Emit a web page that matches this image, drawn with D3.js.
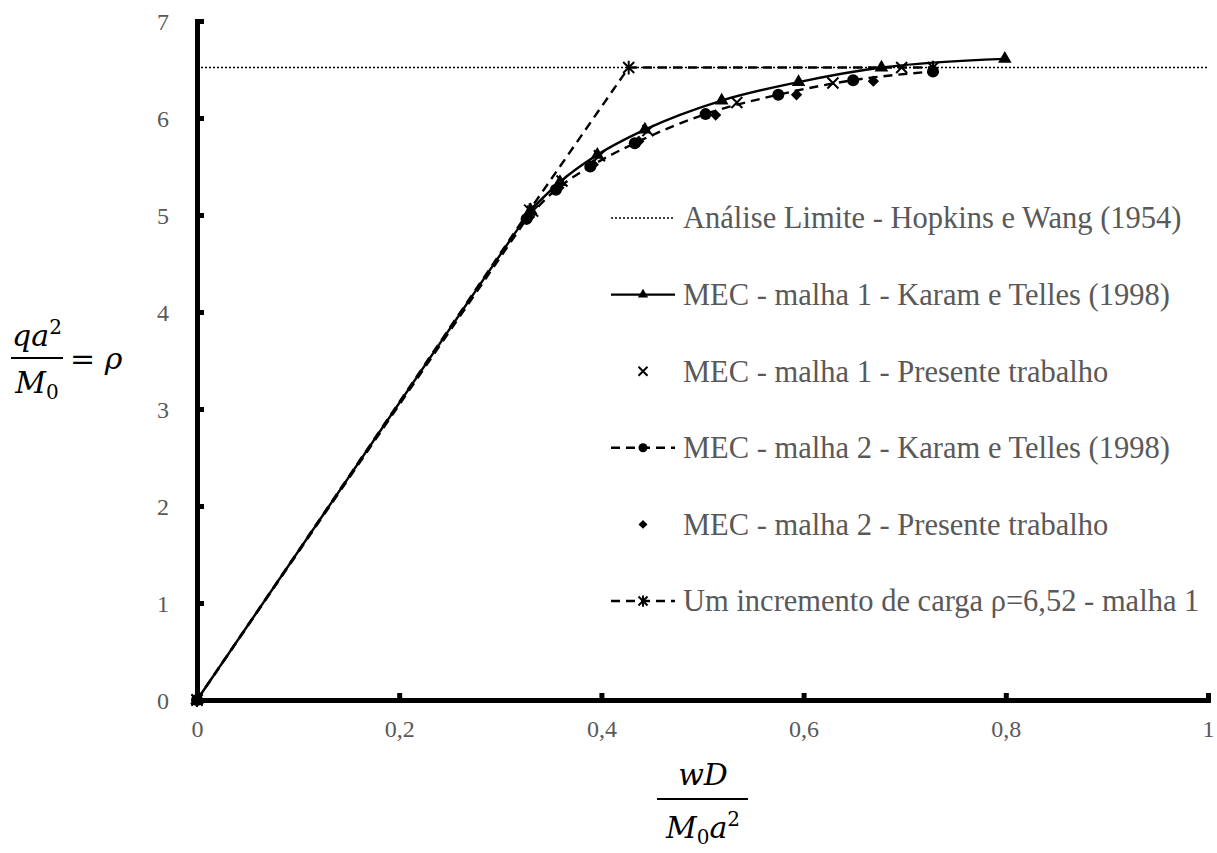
<!DOCTYPE html>
<html>
<head>
<meta charset="utf-8">
<script src="https://cdn.jsdelivr.net/npm/d3@7"></script>
<style>
  html, body { margin: 0; padding: 0; background: #fff; }
  svg { display: block; }
</style>
</head>
<body>
<svg id="chart" width="1217" height="853"></svg>
<script>
// Plate load–deflection curves: normalized load ρ = qa²/M0 vs normalized deflection wD/(M0 a²)

const xTicks = [0, 0.2, 0.4, 0.6, 0.8, 1];
const yTicks = [0, 1, 2, 3, 4, 5, 6, 7];

// Limit analysis load (Hopkins & Wang, 1954)
const limitLoad = 6.52;

// MEC – mesh 1 – Karam & Telles (1998)
const malha1KaramX = [0, 0.330, 0.359, 0.396, 0.443, 0.519, 0.595, 0.677, 0.799];
const malha1KaramY = [0, 5.05, 5.34, 5.62, 5.88, 6.18, 6.37, 6.52, 6.61];

// MEC – mesh 1 – present work
const malha1PresenteX = [0, 0.332, 0.361, 0.398, 0.446, 0.534, 0.629, 0.697];
const malha1PresenteY = [0, 5.04, 5.35, 5.61, 5.87, 6.16, 6.36, 6.52];

// MEC – mesh 2 – Karam & Telles (1998)
const malha2KaramX = [0, 0.326, 0.355, 0.389, 0.433, 0.503, 0.575, 0.649, 0.728];
const malha2KaramY = [0, 4.96, 5.26, 5.50, 5.74, 6.04, 6.24, 6.39, 6.48];

// MEC – mesh 2 – present work
const malha2PresenteX = [0, 0.329, 0.358, 0.392, 0.437, 0.513, 0.593, 0.669];
const malha2PresenteY = [0, 4.98, 5.28, 5.52, 5.76, 6.03, 6.24, 6.38];

// Single load increment ρ = 6,52 – mesh 1
const incrementoX = [0, 0.329, 0.427, 0.728];
const incrementoY = [0, 5.05, 6.52, 6.52];

const legendLabels = [
  "Análise Limite - Hopkins e Wang (1954)",
  "MEC - malha 1 - Karam e Telles (1998)",
  "MEC - malha 1 - Presente trabalho",
  "MEC - malha 2 - Karam e Telles (1998)",
  "MEC - malha 2 - Presente trabalho",
  "Um incremento de carga ρ=6,52 - malha 1"
];

const SERIF = '"Liberation Serif", "Times New Roman", Times, serif';
const MATH = '"DejaVu Serif", "Liberation Serif", serif';
const GREY = "#595959";

const zip = (xs, ys) => xs.map((x, i) => [x, ys[i]]);

const svg = d3.select("#chart");
const x = d3.scaleLinear().domain([0, 1]).range([197, 1208]);
const y = d3.scaleLinear().domain([0, 7]).range([700, 21]);

// ---- axes ----
const xAxis = d3.axisBottom(x).tickValues(xTicks)
  .tickFormat(d => d === 0 || d === 1 ? String(d) : d3.format(".1f")(d).replace(".", ","))
  .tickSizeInner(-7).tickSizeOuter(0).tickPadding(20);
const yAxis = d3.axisLeft(y).tickValues(yTicks).tickFormat(d3.format("d"))
  .tickSizeInner(-7).tickSizeOuter(0).tickPadding(28);

const gx = svg.append("g").attr("transform", `translate(0,${y(0)})`).call(xAxis);
const gy = svg.append("g").attr("transform", `translate(${x(0)},0)`).call(yAxis);
[gx, gy].forEach(g => {
  g.select(".domain").attr("stroke", "#000").attr("stroke-width", 5).attr("stroke-linecap", "square");
  g.selectAll(".tick line").attr("stroke", "#000").attr("stroke-width", 5);
  g.selectAll(".tick text")
    .style("font-family", SERIF).style("font-size", "24px").style("fill", GREY);
});
gy.selectAll(".tick text").attr("dy", "0.34em");

// ---- series ----
const px = d => [x(d[0]), y(d[1])];
const lineSmooth = d3.line().x(d => x(d[0])).y(d => y(d[1])).curve(d3.curveMonotoneX);
const lineStraight = d3.line().x(d => x(d[0])).y(d => y(d[1]));
// straight elastic branch from the origin, smooth plastic branch afterwards
const elastoPlastic = pts => {
  const [x0, y0] = px(pts[0]);
  return `M${x0},${y0}` + lineSmooth(pts.slice(1)).replace(/^M/, "L");
};

const plot = svg.append("g");

// limit analysis (dotted)
plot.append("path")
  .attr("d", lineStraight([[0, limitLoad], [1, limitLoad]]))
  .attr("fill", "none").attr("stroke", "#000").attr("stroke-width", 1.6)
  .attr("stroke-dasharray", "2,2");

// single increment (dashed)
plot.append("path")
  .attr("d", lineStraight(zip(incrementoX, incrementoY)))
  .attr("fill", "none").attr("stroke", "#000").attr("stroke-width", 2.4)
  .attr("stroke-dasharray", "9,6");

// mesh 2 Karam (dashed, smooth)
plot.append("path")
  .attr("d", elastoPlastic(zip(malha2KaramX, malha2KaramY)))
  .attr("fill", "none").attr("stroke", "#000").attr("stroke-width", 2.4)
  .attr("stroke-dasharray", "9,6");

// mesh 1 Karam (solid, smooth)
plot.append("path")
  .attr("d", elastoPlastic(zip(malha1KaramX, malha1KaramY)))
  .attr("fill", "none").attr("stroke", "#000").attr("stroke-width", 2.4);

// ---- markers ----
const crossPath = r => `M${-r},${-r}L${r},${r}M${-r},${r}L${r},${-r}`;
const starPath = r => `M${-r},${-r}L${r},${r}M${-r},${r}L${r},${-r}M0,${-r * 1.25}L0,${r * 1.25}`;

function markers(data, drawer) {
  const g = plot.append("g");
  data.forEach(d => drawer(g.append("g").attr("transform", `translate(${x(d[0])},${y(d[1])})`)));
}

const drawCircle = g => g.append("circle").attr("r", 6).attr("fill", "#000");
const drawTriangle = g => g.append("path").attr("d", d3.symbol().type(d3.symbolTriangle).size(80)()).attr("fill", "#000");
const drawDiamond = g => g.append("path").attr("d", d3.symbol().type(d3.symbolSquare).size(64)()).attr("transform", "rotate(45)").attr("fill", "#000");
const drawCross = g => g.append("path").attr("d", crossPath(5.5)).attr("stroke", "#000").attr("stroke-width", 2).attr("fill", "none");
const drawStar = g => g.append("path").attr("d", starPath(5.5)).attr("stroke", "#000").attr("stroke-width", 2).attr("fill", "none");

markers(zip(malha2KaramX, malha2KaramY), drawCircle);
markers(zip(malha2PresenteX, malha2PresenteY), drawDiamond);
markers(zip(malha1KaramX, malha1KaramY), drawTriangle);
markers(zip(malha1PresenteX, malha1PresenteY), drawCross);
markers(zip(incrementoX, incrementoY), drawStar);

// ---- legend ----
const legend = svg.append("g");
const legY = d3.scalePoint().domain(d3.range(legendLabels.length)).range([218, 601]);
const sampleX0 = 611, sampleX1 = 675, sampleMid = 643;

const smallTriangle = g => g.append("path").attr("d", d3.symbol().type(d3.symbolTriangle).size(45)()).attr("fill", "#000");
const smallCircle = g => g.append("circle").attr("r", 4.5).attr("fill", "#000");
const smallDiamond = g => g.append("path").attr("d", d3.symbol().type(d3.symbolSquare).size(40)()).attr("transform", "rotate(45)").attr("fill", "#000");
const smallCross = g => g.append("path").attr("d", crossPath(4.5)).attr("stroke", "#000").attr("stroke-width", 2).attr("fill", "none");
const smallStar = g => g.append("path").attr("d", starPath(4.5)).attr("stroke", "#000").attr("stroke-width", 2).attr("fill", "none");
const at = g => g.append("g").attr("transform", `translate(${sampleMid},0)`);

const samples = [
  g => g.append("line").attr("x1", sampleX0).attr("x2", sampleX1).attr("stroke", "#000").attr("stroke-width", 1.6).attr("stroke-dasharray", "2,2"),
  g => { g.append("line").attr("x1", sampleX0).attr("x2", sampleX1).attr("stroke", "#000").attr("stroke-width", 2.4);
         smallTriangle(at(g)); },
  g => smallCross(at(g)),
  g => { g.append("line").attr("x1", sampleX0).attr("x2", sampleX1).attr("stroke", "#000").attr("stroke-width", 2.4).attr("stroke-dasharray", "9,6");
         smallCircle(at(g)); },
  g => smallDiamond(at(g)),
  g => { g.append("line").attr("x1", sampleX0).attr("x2", sampleX1).attr("stroke", "#000").attr("stroke-width", 2.4).attr("stroke-dasharray", "9,6");
         smallStar(at(g)); }
];

legendLabels.forEach((label, i) => {
  const row = legend.append("g").attr("transform", `translate(0,${legY(i)})`);
  samples[i](row);
  row.append("text").attr("x", 683).attr("dy", "0.34em")
    .style("font-family", SERIF).style("font-size", "30.5px").style("fill", GREY)
    .text(label);
});

// ---- axis titles (fractions) ----
const mathText = (g, xPos, yPos, anchor) => g.append("text").attr("x", xPos).attr("y", yPos)
  .attr("text-anchor", anchor).style("font-family", MATH).style("font-size", "30px").style("fill", "#000");

const yt = svg.append("g");
mathText(yt, 37, 346, "middle").style("font-style", "italic")
  .html('qa<tspan dy="-12" style="font-size:20px;font-style:normal">2</tspan>');
yt.append("line").attr("x1", 11).attr("x2", 63).attr("y1", 358).attr("y2", 358)
  .attr("stroke", "#000").attr("stroke-width", 2);
mathText(yt, 37, 393, "middle").style("font-style", "italic")
  .html('M<tspan dy="6" style="font-size:20px;font-style:normal">0</tspan>');
mathText(yt, 70, 369, "start")
  .html('= <tspan style="font-style:italic">ρ</tspan>');

const xt = svg.append("g");
mathText(xt, 703, 785, "middle").style("font-style", "italic").text("wD");
xt.append("line").attr("x1", 657).attr("x2", 748).attr("y1", 799).attr("y2", 799)
  .attr("stroke", "#000").attr("stroke-width", 2);
mathText(xt, 703, 838, "middle").style("font-style", "italic")
  .html('M<tspan dy="6" style="font-size:20px;font-style:normal">0</tspan><tspan dy="-6">a</tspan><tspan dy="-12" style="font-size:20px;font-style:normal">2</tspan>');
</script>
</body>
</html>
